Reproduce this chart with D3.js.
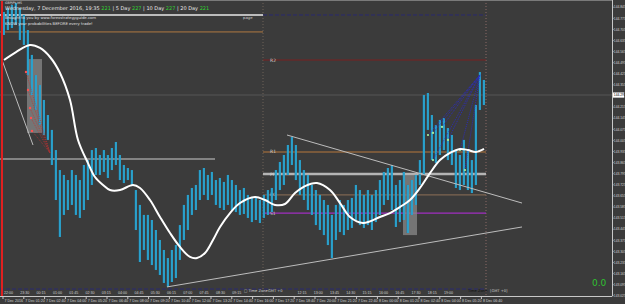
<!DOCTYPE html>
<html>
<head>
<meta charset="utf-8">
<script src="https://cdn.jsdelivr.net/npm/d3@7"></script>
<style>
  html, body { margin: 0; padding: 0; background: #3b3b3b; }
  svg { display: block; font-family: "DejaVu Sans", sans-serif; }
  .narrow { font-family: "Liberation Sans Narrow", "Liberation Sans", sans-serif; }
</style>
</head>
<body>
<div id="chart"></div>
<script>
// bar highs / lows (GBPJPY M5), one entry per bar
const barHigh = [144.815,144.840,144.859,144.872,144.840,144.796,144.701,144.544,144.417,144.354,
  144.260,144.165,144.071,143.944,143.818,143.787,143.755,143.818,143.787,143.755,
  143.850,143.881,143.944,143.957,143.913,143.944,143.913,143.957,143.995,143.913,
  143.850,143.831,143.818,143.692,143.598,143.535,143.535,143.503,143.440,143.377,
  143.314,143.263,143.314,143.345,143.471,143.598,143.661,143.705,143.724,143.818,
  143.831,143.787,143.806,143.755,143.768,143.743,143.787,143.755,143.724,143.692,
  143.705,143.661,143.642,143.648,143.629,143.661,143.692,143.705,143.818,143.869,
  143.913,143.976,144.026,143.976,143.881,143.818,143.787,143.724,143.692,143.661,
  143.629,143.598,143.535,143.598,143.629,143.598,143.629,143.642,143.724,143.692,
  143.661,143.692,143.661,143.692,143.755,143.806,143.831,143.850,143.724,143.755,
  143.806,143.724,143.755,143.787,143.881,144.291,144.304,144.165,144.102,144.134,
  144.146,144.083,144.039,143.944,143.913,144.008,143.944,143.881,144.228,144.436,
  144.386];
const barLow = [144.670,144.701,144.714,144.733,144.638,144.607,144.417,144.291,144.197,144.102,
  144.039,144.008,143.850,143.629,143.396,143.535,143.566,143.598,143.535,143.516,
  143.566,143.629,143.724,143.787,143.787,143.806,143.768,143.818,143.850,143.755,
  143.736,143.755,143.724,143.440,143.238,143.314,143.251,143.219,143.188,143.156,
  143.106,143.081,143.112,143.137,143.251,143.377,143.440,143.535,143.566,143.629,
  143.661,143.629,143.661,143.598,143.579,143.566,143.598,143.566,143.553,143.535,
  143.541,143.516,143.490,143.503,143.484,143.516,143.535,143.553,143.629,143.692,
  143.724,143.787,143.850,143.755,143.661,143.629,143.566,143.535,143.471,143.440,
  143.408,143.345,143.263,143.377,143.427,143.408,143.440,143.453,143.503,143.471,
  143.453,143.471,143.440,143.490,143.535,143.598,143.629,143.566,143.459,143.490,
  143.503,143.421,143.535,143.598,143.724,143.787,144.071,143.881,143.862,143.913,
  143.944,143.881,143.850,143.705,143.692,143.724,143.692,143.673,143.724,144.197,
  144.228];

// smoothed moving average (bar index, price)
const maIndex = [0,3,6.5,9,11.5,14,16.5,18.5,21,22.75,24.75,26.5,29,32.25,34,36.5,39,41.5,44,46.5,
  48.25,50.25,52.25,54,56.5,59,62.75,65.25,67.75,70.25,72.75,75.25,78.25,81.5,84,86.5,89.75,94,
  96.5,99,101.5,104,106.5,109,111.5,114,116,118,120];
const maPrice = [144.512,144.562,144.607,144.588,144.531,144.430,144.260,144.008,143.862,143.774,
  143.724,143.692,143.692,143.724,143.705,143.629,143.522,143.421,143.333,143.270,
  143.263,143.295,143.377,143.459,143.547,143.610,143.648,143.629,143.598,143.604,
  143.673,143.717,143.736,143.692,143.610,143.522,143.484,143.522,143.547,143.585,
  143.629,143.705,143.799,143.881,143.926,143.951,143.944,143.932,143.951];

// price axis
const priceTicks = [144.845,144.775,144.705,144.635,144.565,144.495,144.425,144.355,144.285,144.215,
  144.145,144.075,144.005,143.935,143.865,143.795,143.725,143.655,143.585,143.515,143.445,
  143.375,143.305,143.235,143.165,143.095,143.025];
const currentPrice = 144.291;

// time axis labels
const dateLabels = ["7 Dec 2016","7 Dec 01:20","7 Dec 02:40","7 Dec 04:00","7 Dec 05:20","7 Dec 06:40",
  "7 Dec 08:00","7 Dec 09:20","7 Dec 10:40","7 Dec 12:00","7 Dec 13:20","7 Dec 14:40","7 Dec 16:00",
  "7 Dec 17:20","7 Dec 18:40","7 Dec 20:00","7 Dec 21:20","7 Dec 22:40","8 Dec 00:00","8 Dec 01:20",
  "8 Dec 02:40","8 Dec 04:00","8 Dec 05:20","8 Dec 06:40"];
const hourLabels = ["22:00","23:30","00:15","01:00","01:45","02:30","03:15","04:00","04:45","05:30",
  "06:15","07:00","07:45","08:30","09:15","10:00","10:45","11:30","12:15","13:00","13:45","14:30",
  "15:15","16:00","16:45","17:30","18:15","19:00","19:45","20:30"];

// previous-session levels (left part)
const prevLevels = [
  { price: 144.796, from: -1, to: 64.75, color: "#e8e8e8", width: 1.5 },
  { price: 144.689, from: -1, to: 64.75, color: "#b07840", width: 1 },
  { price: 143.888, from: -1, to: 52.75, color: "#9c9c9c", width: 1.5 }
];
// pivot levels (today)
const pivotNames = ["R2", "R1", "PP", "BC", "S1"];
const pivotPrices = [144.512, 143.932, 143.793, 143.661, 143.547];
const pivotColors = ["#7a2020", "#b8783c", "#b4b4b4", "#7e6652", "#a22fc2"];

// trend lines [index, price] pairs
const trendLines = [
  [[-0.5, 144.512], [7.25, 143.976]],
  [[70.75, 144.039], [129.5, 143.610]],
  [[40.75, 143.081], [129.5, 143.459]]
];
// red fan (left box) and blue fan (right)
const redFan = [[5.5,144.436],[6,144.323],[6.5,144.209],[6.75,144.146],[7,144.065]];
const redFanEnd = [11.5, 143.926];
const blueFan = [[106,144.039],[107.25,144.052],[107.25,143.881],[109.5,144.090],[111,144.008],[114,143.944],[115.25,143.818]];
const blueFanEnd = [119, 144.418];

// boxes [i0, i1, pTop, pBottom]
const boxes = [[5.75, 9.5, 144.518, 144.052], [99.75, 103.25, 143.787, 143.408]];

const W = 625, H = 304;
const plotRight = 612, plotBottom = 296;

const svg = d3.select("#chart").append("svg")
  .attr("width", W).attr("height", H);

svg.append("rect").attr("width", W).attr("height", H).attr("fill", "#3b3b3b");

const x = d3.scaleLinear().domain([0, barHigh.length - 1]).range([4, 484]);
const y = d3.scaleLinear().domain([144.845, 143.025]).range([7.2, 295.8]);

const plot = svg.append("g");

// current price line
plot.append("line")
  .attr("x1", 0).attr("x2", plotRight)
  .attr("y1", y(currentPrice)).attr("y2", y(currentPrice))
  .attr("stroke", "#4e4e4e").attr("stroke-width", 1.5);

// vertical session separators
plot.append("line")
  .attr("x1", x(64.75)).attr("x2", x(64.75)).attr("y1", 0).attr("y2", plotBottom)
  .attr("stroke", "#6e6258").attr("stroke-dasharray", "1,2");
plot.append("line")
  .attr("x1", x(120.5)).attr("x2", x(120.5)).attr("y1", 0).attr("y2", plotBottom)
  .attr("stroke", "#8c6a66").attr("stroke-dasharray", "1,2");

// previous levels
prevLevels.forEach(l => {
  plot.append("line")
    .attr("x1", x(l.from)).attr("x2", x(l.to))
    .attr("y1", y(l.price)).attr("y2", y(l.price))
    .attr("stroke", l.color).attr("stroke-width", l.width);
});
// navy dashed continuation + bottom dashed
plot.append("line")
  .attr("x1", x(64.75)).attr("x2", x(120.5))
  .attr("y1", y(144.796)).attr("y2", y(144.796))
  .attr("stroke", "#2a2a70").attr("stroke-dasharray", "4,2");
plot.append("line")
  .attr("x1", 0).attr("x2", x(120.5))
  .attr("y1", 289).attr("y2", 289)
  .attr("stroke", "#2a2a70").attr("stroke-dasharray", "4,2");

// pivot lines
pivotPrices.forEach((p, k) => {
  plot.append("line")
    .attr("x1", x(64.75)).attr("x2", x(120.5))
    .attr("y1", y(p)).attr("y2", y(p))
    .attr("stroke", pivotColors[k])
    .attr("stroke-width", pivotNames[k] === "PP" ? 2.5 : 1.2);
  plot.append("text")
    .attr("x", x(66.5)).attr("y", y(p) + 1.5)
    .attr("fill", "#cfcfcf").style("font-size", "4.5px")
    .text(pivotNames[k]);
});

// boxes
boxes.forEach(b => {
  plot.append("rect")
    .attr("x", x(b[0])).attr("width", x(b[1]) - x(b[0]))
    .attr("y", y(b[2])).attr("height", y(b[3]) - y(b[2]))
    .attr("fill", "#8a8a8a").attr("opacity", 0.75);
});

// bars
const bars = plot.append("g");
barHigh.forEach((h, i) => {
  bars.append("rect")
    .attr("x", x(i) - 1.3).attr("width", 2.2)
    .attr("y", y(h)).attr("height", Math.max(1, y(barLow[i]) - y(h)))
    .attr("fill", "#1878a6");
  bars.append("line")
    .attr("x1", x(i)).attr("x2", x(i))
    .attr("y1", y(h)).attr("y2", y(barLow[i]))
    .attr("stroke", "#40d2fa").attr("stroke-width", 0.9);
});

// trend lines
trendLines.forEach(t => {
  plot.append("line")
    .attr("x1", x(t[0][0])).attr("y1", y(t[0][1]))
    .attr("x2", x(t[1][0])).attr("y2", y(t[1][1]))
    .attr("stroke", "#bdbdbd").attr("stroke-width", 1);
});

// fans
redFan.forEach(p => {
  plot.append("line")
    .attr("x1", x(p[0])).attr("y1", y(p[1]))
    .attr("x2", x(redFanEnd[0])).attr("y2", y(redFanEnd[1]))
    .attr("stroke", "#c03030").attr("stroke-dasharray", "1,1").attr("stroke-width", 0.7);
  plot.append("circle")
    .attr("cx", x(p[0])).attr("cy", y(p[1])).attr("r", 1.2)
    .attr("fill", "#ff5050");
});
blueFan.forEach(p => {
  plot.append("line")
    .attr("x1", x(p[0])).attr("y1", y(p[1]))
    .attr("x2", x(blueFanEnd[0])).attr("y2", y(blueFanEnd[1]))
    .attr("stroke", "#2a2ad0").attr("stroke-dasharray", "1,1").attr("stroke-width", 0.8);
  plot.append("circle")
    .attr("cx", x(p[0])).attr("cy", y(p[1])).attr("r", 1.1)
    .attr("fill", "#a8f0a0");
});

// moving average
const maLine = d3.line()
  .x((d, i) => x(maIndex[i]))
  .y(d => y(d))
  .curve(d3.curveCatmullRom);
plot.append("path")
  .datum(maPrice)
  .attr("d", maLine)
  .attr("fill", "none")
  .attr("stroke", "#ffffff")
  .attr("stroke-width", 2);

// red start line
plot.append("rect")
  .attr("x", 1).attr("y", 0).attr("width", 2).attr("height", plotBottom)
  .attr("fill", "#e02020");

// frame
svg.append("line").attr("x1", 0).attr("x2", plotRight).attr("y1", 0.5).attr("y2", 0.5)
  .attr("stroke", "#7a7a7a");
svg.append("line").attr("x1", plotRight + 0.5).attr("x2", plotRight + 0.5).attr("y1", 0).attr("y2", plotBottom)
  .attr("stroke", "#c8c8c8");
svg.append("line").attr("x1", 0).attr("x2", plotRight).attr("y1", plotBottom + 0.5).attr("y2", plotBottom + 0.5)
  .attr("stroke", "#c8c8c8");

// price labels
const yAxis = svg.append("g").attr("class", "narrow");
priceTicks.forEach(p => {
  if (Math.abs(y(p) - y(currentPrice)) < 6) return;
  yAxis.append("line").attr("x1", plotRight).attr("x2", plotRight + 1.5)
    .attr("y1", y(p)).attr("y2", y(p)).attr("stroke", "#c8c8c8");
  yAxis.append("text")
    .attr("x", plotRight + 1.8).attr("y", y(p) + 1.2)
    .attr("fill", "#d4d4d4").style("font-size", "3.3px")
    .text(p.toFixed(3));
});
yAxis.append("rect")
  .attr("x", plotRight + 1).attr("y", y(currentPrice) - 2.6).attr("width", 11.2).attr("height", 5.2)
  .attr("fill", "#ffffff");
yAxis.append("text")
  .attr("x", plotRight + 1.8).attr("y", y(currentPrice) + 1.2)
  .attr("fill", "#000").style("font-size", "3.3px")
  .text(currentPrice.toFixed(3));

// time labels
const xAxis = svg.append("g").attr("class", "narrow");
dateLabels.forEach((t, k) => {
  const px = 3 + k * 20.8;
  xAxis.append("line").attr("x1", px).attr("x2", px).attr("y1", plotBottom).attr("y2", plotBottom + 3)
    .attr("stroke", "#c8c8c8");
  xAxis.append("text")
    .attr("x", px + 1.5).attr("y", plotBottom + 5.5)
    .attr("fill", "#d4d4d4").style("font-size", "3.6px")
    .text(t);
});
hourLabels.forEach((t, k) => {
  const px = 4 + k * 16.3;
  if ((px > 236 && px < 290) || px > 460) return;
  xAxis.append("text")
    .attr("x", px).attr("y", 293.5)
    .attr("fill", "#cfcfcf").style("font-size", "3.6px")
    .text(t);
});

// top-left info text
const info = svg.append("g").style("font-size", "5px");
info.append("text").attr("x", 5).attr("y", 4).attr("fill", "#e0e0e0").style("font-size", "3.2px").text("GBPJPY,M5");
const line2 = info.append("text").attr("x", 5).attr("y", 10).attr("fill", "#e8e8e8");
line2.append("tspan").text("Wednesday, 7 December 2016, 19:35 ");
line2.append("tspan").attr("fill", "#30d030").text("221");
line2.append("tspan").text(" | 5 Day ");
line2.append("tspan").attr("fill", "#30d030").text("227");
line2.append("tspan").text(" | 10 Day ");
line2.append("tspan").attr("fill", "#30d030").text("227");
line2.append("tspan").text(" | 20 Day ");
line2.append("tspan").attr("fill", "#30d030").text("221");
info.append("text").attr("x", 5).attr("y", 19).attr("fill", "#e0e0e0").style("font-size", "3.8px")
  .text("Brought to you by www.forexstrategyguide.com");
info.append("text").attr("x", 5).attr("y", 24.5).attr("fill", "#e0e0e0").style("font-size", "3.8px")
  .text("KNOW your probabilities BEFORE every trade!");
info.append("text").attr("x", 243).attr("y", 19).attr("fill", "#d0d0d0").style("font-size", "3.8px").text("page");

// bottom labels
svg.append("text").attr("x", 244).attr("y", 292).attr("fill", "#d0d0d0").style("font-size", "3.6px").text("□ Time Zone");
svg.append("text").attr("x", 268).attr("y", 292).attr("fill", "#d0d0d0").style("font-size", "3.6px").text("GMT +0");
svg.append("text").attr("x", 468).attr("y", 292).attr("fill", "#101010").style("font-size", "3.6px").text("Time Zone");
svg.append("text").attr("x", 490).attr("y", 292).attr("fill", "#d0d0d0").style("font-size", "3.6px").text("[GMT +0]");

// profit readout
svg.append("text").attr("x", 592).attr("y", 286).attr("fill", "#2ec030").style("font-size", "9px").text("0.0");
</script>
</body>
</html>
